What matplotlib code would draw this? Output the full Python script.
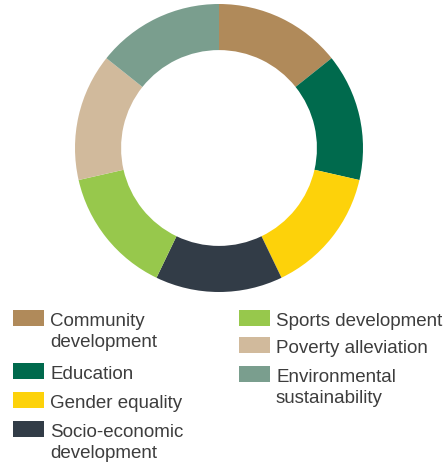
import matplotlib
matplotlib.use("Agg")
import matplotlib.pyplot as plt
from matplotlib.patches import Rectangle

plt.rcParams['font.family'] = ['Liberation Sans', 'DejaVu Sans']

labels = ["Community\ndevelopment", "Education", "Gender equality",
          "Socio-economic\ndevelopment", "Sports development",
          "Poverty alleviation", "Environmental\nsustainability"]
values = [1, 1, 1, 1, 1, 1, 1]
colors = ["#B08A5A", "#006A4D", "#FDD20A", "#323C47",
          "#97C84C", "#D1BA9C", "#7A9E8E"]

W, H = 445, 465
fig = plt.figure(figsize=(W / 100, H / 100), dpi=100)
ax = fig.add_axes([75 / W, 173 / H, 288 / W, 288 / H])

wedges, _ = ax.pie(values, colors=colors, startangle=90, counterclock=False,
                   radius=1, wedgeprops=dict(width=0.32, linewidth=0))
ax.set_xlim(-1, 1)
ax.set_ylim(-1, 1)
ax.set_aspect("equal")
ax.axis("off")

# legend drawn by hand: two columns, handle lined up with first text line
col_x = [13, 239]
row_top = [310, 362.7, 391.7, 421, 310, 336.7, 366]
col_of = [0, 0, 0, 0, 1, 1, 1]
line_h = 21

for lab, c, top, ci in zip(labels, colors, row_top, col_of):
    x0 = col_x[ci]
    fig.patches.append(Rectangle((x0 / W, 1 - (top + 16) / H), 31 / W, 16 / H,
                                 transform=fig.transFigure, facecolor=c,
                                 edgecolor="none"))
    for i, line in enumerate(lab.split("\n")):
        fig.text((x0 + 37) / W, 1 - (top + 16 + i * line_h) / H, line,
                 ha="left", va="baseline", fontsize=13.5, color="#3d3d3d")

fig.savefig("out.png", dpi=100)
